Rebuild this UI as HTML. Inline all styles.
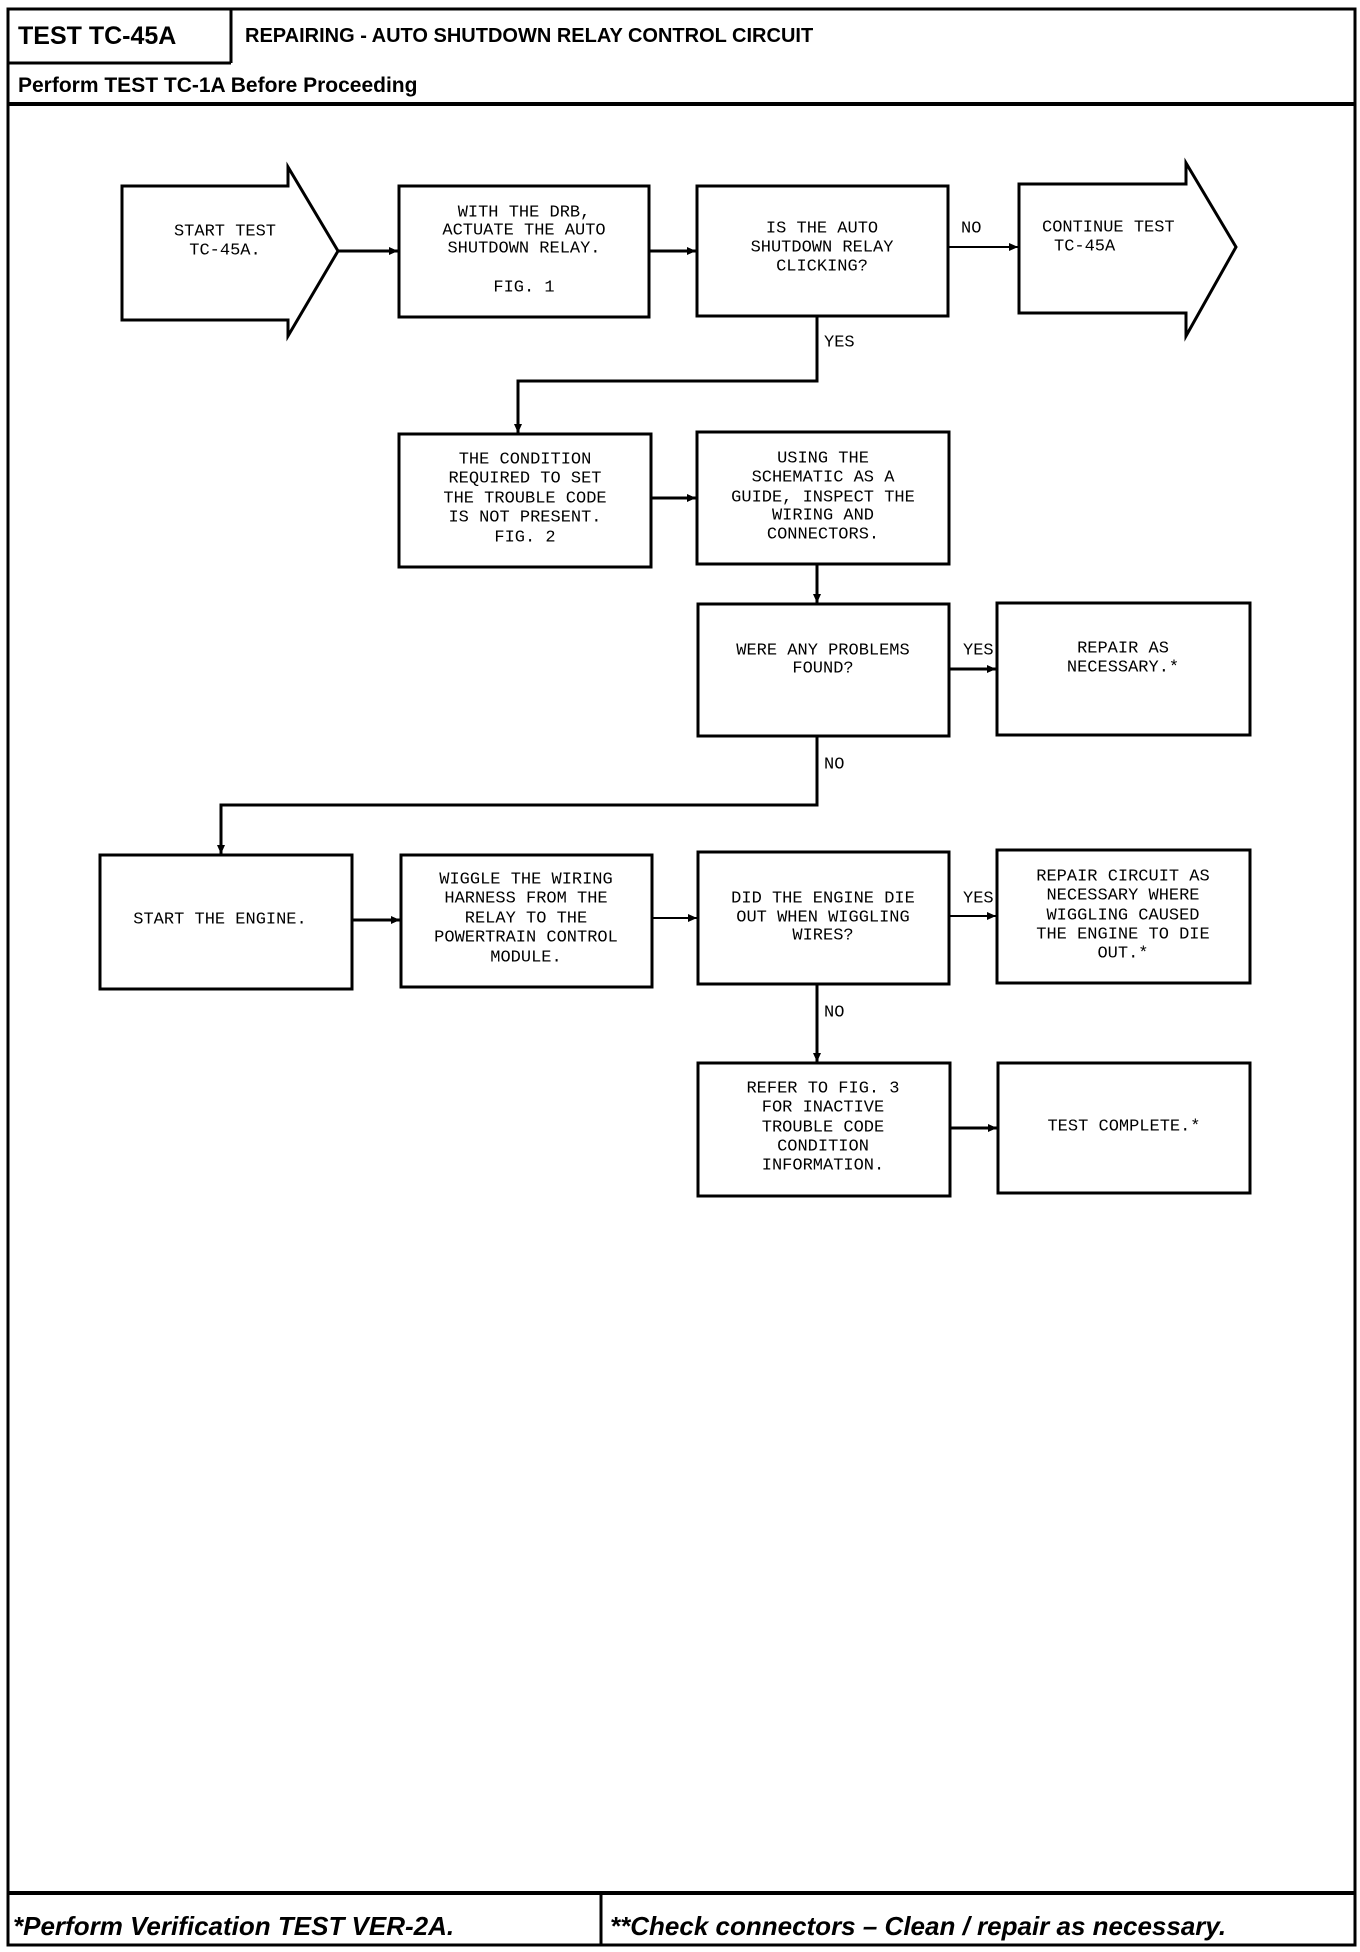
<!DOCTYPE html>
<html><head><meta charset="utf-8"><style>
html,body{margin:0;padding:0;background:#fff;}
svg{display:block;}
.t{font-family:"Liberation Mono",monospace;font-size:17px;fill:#000;}
.h{font-family:"Liberation Sans",sans-serif;font-weight:bold;fill:#000;}
</style></head><body>
<svg width="1360" height="1952" viewBox="0 0 1360 1952" xmlns="http://www.w3.org/2000/svg">
<defs><marker id="a" markerWidth="10" markerHeight="10" refX="9" refY="5" orient="auto" markerUnits="userSpaceOnUse"><path d="M0,1 L9,5 L0,9 Z" fill="#000"/></marker></defs>
<g fill="none" stroke="#000" stroke-width="3">
<rect x="8" y="9" width="1347" height="1936"/>
<line x1="231" y1="9" x2="231" y2="63"/>
<line x1="8" y1="63" x2="231" y2="63"/>
<line x1="8" y1="104" x2="1355" y2="104" stroke-width="4"/>
<line x1="8" y1="1893" x2="1355" y2="1893" stroke-width="4"/>
<line x1="601" y1="1893" x2="601" y2="1945"/>
<!-- start arrow -->
<path d="M122,186 H288 V167 L338,251 L288,336 V320 H122 Z"/>
<path d="M1019,184 H1186 V163 L1236,247 L1186,336 V313 H1019 Z"/>
<rect x="399" y="186" width="250" height="131"/>
<rect x="697" y="186" width="251" height="130"/>
<rect x="399" y="434" width="252" height="133"/>
<rect x="697" y="432" width="252" height="132"/>
<rect x="698" y="604" width="251" height="132"/>
<rect x="997" y="603" width="253" height="132"/>
<rect x="100" y="855" width="252" height="134"/>
<rect x="401" y="855" width="251" height="132"/>
<rect x="698" y="852" width="251" height="132"/>
<rect x="997" y="850" width="253" height="133"/>
<rect x="698" y="1063" width="252" height="133"/>
<rect x="998" y="1063" width="252" height="130"/>
</g>
<g fill="none" stroke="#000" stroke-width="3" marker-end="url(#a)">
<line x1="338" y1="251" x2="398" y2="251"/>
<line x1="649" y1="251" x2="696" y2="251"/>
<line x1="948" y1="247" x2="1018" y2="247" stroke-width="2"/>
<polyline points="817,317 817,381 518,381 518,433"/>
<line x1="651" y1="498" x2="696" y2="498"/>
<line x1="817" y1="564" x2="817" y2="603"/>
<line x1="949" y1="669" x2="996" y2="669"/>
<polyline points="817,736 817,805 221,805 221,854"/>
<line x1="352" y1="920" x2="400" y2="920"/>
<line x1="652" y1="918" x2="697" y2="918" stroke-width="2"/>
<line x1="949" y1="916" x2="996" y2="916" stroke-width="2"/>
<line x1="817" y1="984" x2="817" y2="1062"/>
<line x1="950" y1="1128" x2="997" y2="1128"/>
</g>
<text class="h" x="18" y="44" font-size="25">TEST TC-45A</text>
<text class="h" x="245" y="42" font-size="20">REPAIRING - AUTO SHUTDOWN RELAY CONTROL CIRCUIT</text>
<text class="h" x="18" y="92" font-size="21">Perform TEST TC-1A Before Proceeding</text>
<text class="h" x="13" y="1935" font-size="26" font-style="italic">*Perform Verification TEST VER-2A.</text>
<text class="h" x="610" y="1935" font-size="26" font-style="italic">**Check connectors – Clean / repair as necessary.</text>
<g class="t" text-anchor="middle" dominant-baseline="central">
<text x="225" y="232">START TEST</text><text x="225" y="251">TC-45A.</text>
<text x="524" y="213">WITH THE DRB,</text><text x="524" y="231">ACTUATE THE AUTO</text><text x="524" y="249">SHUTDOWN RELAY.</text><text x="524" y="288">FIG. 1</text>
<text x="822" y="229">IS THE AUTO</text><text x="822" y="248">SHUTDOWN RELAY</text><text x="822" y="267">CLICKING?</text>
<text x="525" y="460">THE CONDITION</text><text x="525" y="479">REQUIRED TO SET</text><text x="525" y="499">THE TROUBLE CODE</text><text x="525" y="518">IS NOT PRESENT.</text><text x="525" y="538">FIG. 2</text>
<text x="823" y="459">USING THE</text><text x="823" y="478">SCHEMATIC AS A</text><text x="823" y="498">GUIDE, INSPECT THE</text><text x="823" y="516">WIRING AND</text><text x="823" y="535">CONNECTORS.</text>
<text x="823" y="651">WERE ANY PROBLEMS</text><text x="823" y="669">FOUND?</text>
<text x="1123" y="649">REPAIR AS</text><text x="1123" y="668">NECESSARY.*</text>
<text x="220" y="920">START THE ENGINE.</text>
<text x="526" y="880">WIGGLE THE WIRING</text><text x="526" y="899">HARNESS FROM THE</text><text x="526" y="919">RELAY TO THE</text><text x="526" y="938">POWERTRAIN CONTROL</text><text x="526" y="958">MODULE.</text>
<text x="823" y="899">DID THE ENGINE DIE</text><text x="823" y="918">OUT WHEN WIGGLING</text><text x="823" y="936">WIRES?</text>
<text x="1123" y="877">REPAIR CIRCUIT AS</text><text x="1123" y="896">NECESSARY WHERE</text><text x="1123" y="916">WIGGLING CAUSED</text><text x="1123" y="935">THE ENGINE TO DIE</text><text x="1123" y="954">OUT.*</text>
<text x="823" y="1089">REFER TO FIG. 3</text><text x="823" y="1108">FOR INACTIVE</text><text x="823" y="1128">TROUBLE CODE</text><text x="823" y="1147">CONDITION</text><text x="823" y="1166">INFORMATION.</text>
<text x="1124" y="1127">TEST COMPLETE.*</text>
</g>
<g class="t" dominant-baseline="central">
<text x="1042" y="228">CONTINUE TEST</text><text x="1054" y="247">TC-45A</text>
<text x="961" y="229">NO</text>
<text x="824" y="343">YES</text>
<text x="963" y="651">YES</text>
<text x="824" y="765">NO</text>
<text x="963" y="899">YES</text>
<text x="824" y="1013">NO</text>
</g>
</svg>
</body></html>
